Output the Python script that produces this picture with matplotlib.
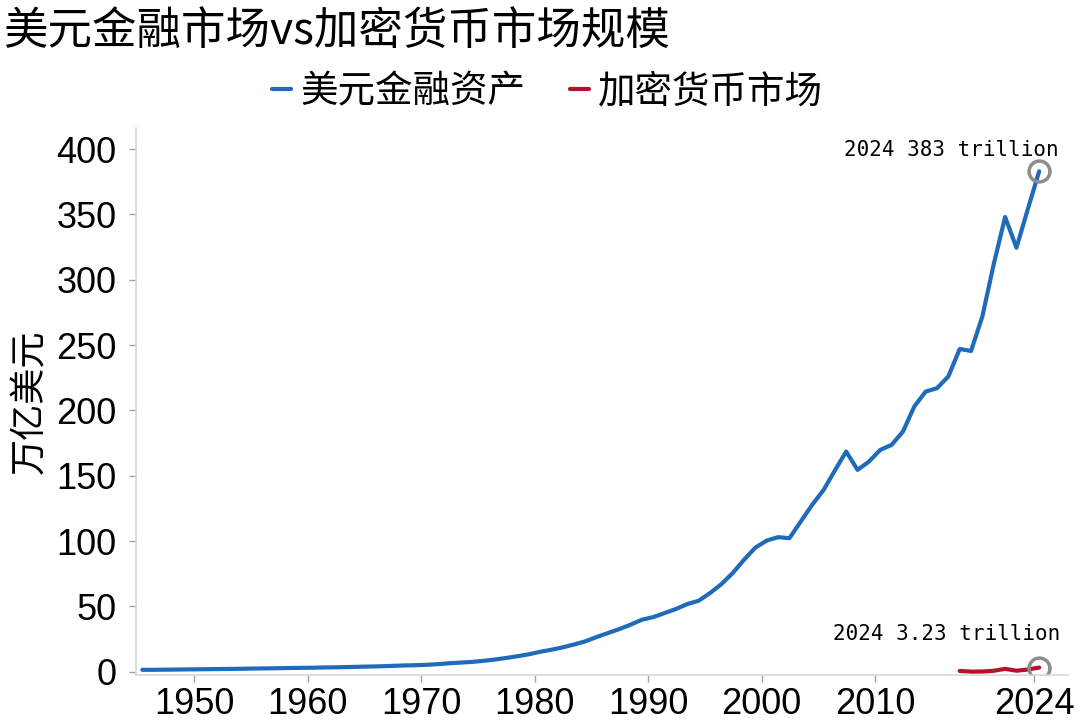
import numpy as np
import matplotlib
matplotlib.use("Agg")
import matplotlib.pyplot as plt

plt.rcParams['font.family'] = ['Noto Sans CJK SC', 'DejaVu Sans']

# 数据（万亿美元，按年）
years_usd = np.arange(1945, 2025)
usd_assets = [
    1.5, 1.5, 1.6, 1.7, 1.8, 1.9, 2.0, 2.1, 2.2, 2.3,
    2.5, 2.6, 2.7, 2.9, 3.0, 3.1, 3.3, 3.4, 3.6, 3.8,
    4.0, 4.2, 4.5, 4.8, 5.0, 5.3, 5.8, 6.5, 7.0, 7.5,
    8.3, 9.3, 10.5, 11.8, 13.3, 15.2, 16.8, 18.6, 20.8, 23.2,
    26.5, 29.6, 32.6, 36.0, 39.8, 41.8, 44.9, 48.0, 51.8, 54.3,
    60.2, 67.0, 75.5, 85.7, 95.0, 100.4, 103.0, 102.2, 115.0, 127.7,
    139.0, 154.0, 168.5, 154.5, 160.8, 169.8, 173.6, 183.8, 203.0, 214.4,
    217.0, 226.0, 247.0, 245.5, 272.0, 312.0, 348.0, 324.5, 354.0, 383.0,
]
years_crypto = np.arange(2017, 2025)
crypto_cap = [0.6, 0.13, 0.19, 0.77, 2.2, 0.8, 1.7, 3.23]

xticks = [1950, 1960, 1970, 1980, 1990, 2000, 2010, 2024]
yticks = [0, 50, 100, 150, 200, 250, 300, 350, 400]

blue = "#1F6BBA"
red = "#B5122E"
grey = "#D9D9D9"

fig = plt.figure(figsize=(10.8, 7.24), dpi=100)
ax = fig.add_axes([0.126, 0.068, 0.863, 0.755])

# 年中数据点
x_usd = years_usd + 0.45
x_crypto = years_crypto + 0.45
ax.plot(x_usd, usd_assets, color=blue, lw=3, label="美元金融资产", solid_capstyle="round")
ax.plot(x_crypto, crypto_cap, color=red, lw=3, label="加密货币市场", solid_capstyle="round")

# 末值标注
ax.plot(x_usd[-1], usd_assets[-1], "o", ms=15, mfc="none", mec="#8C8C8C", mew=2.5)
ax.plot(x_crypto[-1], crypto_cap[-1], "o", ms=15, mfc="none", mec="#8C8C8C", mew=2.5)
ax.annotate(f"{years_usd[-1]} {usd_assets[-1]:.0f} trillion", (x_usd[-1], usd_assets[-1]),
            xytext=(14, 15), textcoords="offset points", ha="right", va="center",
            fontsize=15, family="DejaVu Sans Mono")
ax.annotate(f"{years_crypto[-1]} {crypto_cap[-1]:.2f} trillion", (x_crypto[-1], crypto_cap[-1]),
            xytext=(15, 24), textcoords="offset points", ha="right", va="center",
            fontsize=15, family="DejaVu Sans Mono")

ax.set_xlim(1944.9, 2027)
ax.set_ylim(-2.3, 416)
ax.set_xticks(xticks)
ax.set_yticks(yticks)
ax.tick_params(axis="both", colors="#A0A0A0", length=5, width=1, labelcolor="black", labelsize=26)
ax.tick_params(axis="y", pad=9)
for lab in ax.get_xticklabels() + ax.get_yticklabels():
    lab.set_family("Liberation Sans")
ax.spines["top"].set_visible(False)
ax.spines["right"].set_visible(False)
ax.spines["left"].set_color(grey)
ax.spines["bottom"].set_color(grey)
ax.spines["left"].set_linewidth(1.2)
ax.spines["bottom"].set_linewidth(1.2)

ax.set_ylabel("万亿美元", fontsize=26, va="center")
ax.yaxis.set_label_coords(-0.114, 0.5)

fig.text(0.003, 1 - 32 / 724, "美元金融市场vs加密货币市场规模", fontsize=32, ha="left", va="center")
fig.legend(loc="center", bbox_to_anchor=(0.507, 1 - 92 / 724), ncol=2, frameon=False,
           fontsize=27, handlelength=0.5, handletextpad=0.25, columnspacing=1.2)

fig.savefig("out.png", dpi=100)
